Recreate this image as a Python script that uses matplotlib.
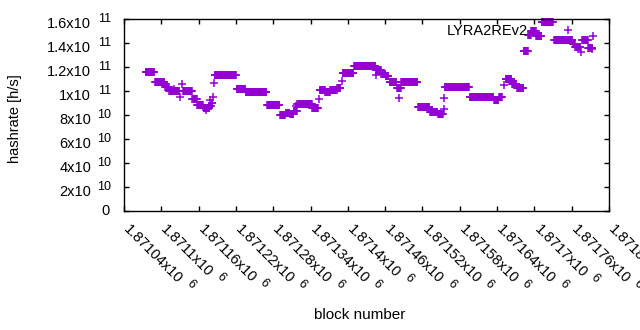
import numpy as np
import matplotlib
matplotlib.use("Agg")
import matplotlib.pyplot as plt
from matplotlib.font_manager import FontProperties

plt.rcParams['font.family'] = ['Liberation Sans', 'DejaVu Sans']

BASE = 1871040
# constant-difficulty runs: start block, end block, hashrate (x1e10 h/s)
seg_start = [35, 50, 66, 73, 81, 95, 110, 118, 128, 138, 141, 146, 181, 196, 230, 251, 260, 267,
             273, 279, 303, 315, 324, 332, 343, 353, 370, 405, 414, 421, 427, 439, 446, 473, 492,
             505, 516, 556, 576, 595, 603, 614, 624, 632, 643, 650, 655, 663, 672, 692, 722, 726,
             737, 747]
seg_end = [49, 65, 72, 79, 89, 109, 117, 127, 137, 140, 142, 180, 195, 229, 250, 259, 266, 272,
           278, 302, 312, 323, 331, 342, 348, 369, 404, 413, 420, 425, 438, 445, 472, 491, 504,
           513, 555, 575, 594, 602, 608, 623, 631, 642, 649, 654, 662, 671, 690, 721, 725, 734,
           746, 753]
seg_value = [11.56, 10.72, 10.31, 10.03, 9.97, 9.97, 9.36, 8.81, 8.61, 8.79, 9.0, 11.31, 10.14,
             9.89, 8.81, 7.97, 8.14, 8.08, 8.33, 8.92, 8.58, 10.06, 9.89, 10.06, 10.25, 11.54,
             12.07, 11.71, 11.42, 11.25, 10.72, 10.25, 10.72, 8.69, 8.28, 8.06, 10.31, 9.53, 9.47,
             9.21, 9.47, 10.97, 10.58, 10.22, 13.33, 14.67, 15.04, 14.58, 15.71, 14.21, 13.92,
             13.69, 14.22, 13.61]
# isolated blocks
single_block = [80, 90, 93, 132, 139, 143, 144, 277, 313, 350, 352, 406, 443, 514, 515, 611,
                735, 752, 755]
single_value = [10.2, 9.53, 10.56, 8.39, 9.25, 9.53, 10.64, 8.75, 9.31, 10.83, 11.53, 11.33,
                9.44, 8.47, 9.39, 10.46, 13.28, 13.47, 14.58]

xtick_values = [1871040 + 60 * k for k in range(14)]
xtick_labels = ['1.87104', '1.8711', '1.87116', '1.87122', '1.87128', '1.87134', '1.8714',
                '1.87146', '1.87152', '1.87158', '1.87164', '1.8717', '1.87176', '1.87182']
ytick_values = [0, 2e10, 4e10, 6e10, 8e10, 1e11, 1.2e11, 1.4e11, 1.6e11]
ytick_labels = ['0', '2x10^10', '4x10^10', '6x10^10', '8x10^10', '1x10^11', '1.2x10^11',
                '1.4x10^11', '1.6x10^11']

blocks = []
rates = []
for s, e, v in zip(seg_start, seg_end, seg_value):
    for b in range(s, e + 1):
        blocks.append(BASE + b)
        rates.append(v * 1e10)
for b, v in zip(single_block, single_value):
    blocks.append(BASE + b)
    rates.append(v * 1e10)

color = '#9400D3'
MFS = 10.5   # mantissa font size
EFS = 9      # exponent font size
fig = plt.figure(figsize=(6.4, 3.3), dpi=100)
ax = fig.add_axes([124 / 640, 1 - 211 / 330, 485 / 640, 192 / 330])
ax.plot(blocks, rates, linestyle='none', marker='+', color=color, markersize=5.8,
        markeredgewidth=1.1, label='LYRA2REv2', clip_on=False)

ax.set_xlim(1871040, 1871820)
ax.set_ylim(0, 1.6e11)
ax.set_yticks(ytick_values)
ax.set_xticks(xtick_values)
ax.tick_params(direction='in', length=3.5, width=1, top=True, right=True,
               labelleft=False, labelbottom=False)
for sp in ax.spines.values():
    sp.set_linewidth(1)

renderer = fig.canvas.get_renderer()
mprop = FontProperties(family='Liberation Sans', size=MFS)

# y tick labels (mantissa + raised exponent)
for v, lbl in zip(ytick_values, ytick_labels):
    if '^' in lbl:
        m, e = lbl.split('^')
        ax.annotate(m, xy=(0, v), xycoords=('axes fraction', 'data'), xytext=(-33, -9.0),
                    textcoords='offset pixels', ha='right', va='baseline', fontsize=MFS,
                    annotation_clip=False)
        ax.annotate(e, xy=(0, v), xycoords=('axes fraction', 'data'), xytext=(-13, -3.0),
                    textcoords='offset pixels', ha='right', va='baseline', fontsize=EFS,
                    annotation_clip=False)
    else:
        ax.annotate(lbl, xy=(0, v), xycoords=('axes fraction', 'data'), xytext=(-14, 0),
                    textcoords='offset pixels', ha='right', va='center', fontsize=MFS,
                    annotation_clip=False)

# x tick labels rotated -45 deg
d = np.array([np.cos(np.pi / 4), -np.sin(np.pi / 4)])   # along baseline (offset px, y up)
u = np.array([np.sin(np.pi / 4), np.cos(np.pi / 4)])    # text "up" direction
start = np.array([-1.0, -19.0])
for v, lbl in zip(xtick_values, xtick_labels):
    m = lbl + 'x10'
    w, h, dsc = renderer.get_text_width_height_descent(m, mprop, ismath=False)
    ax.annotate(m, xy=(v, 0), xycoords=('data', 'axes fraction'), xytext=tuple(start),
                textcoords='offset pixels', ha='left', va='baseline', rotation=-45,
                rotation_mode='anchor', fontsize=MFS, annotation_clip=False)
    ep = start + d * (w + 6) + u * 6.5
    ax.annotate('6', xy=(v, 0), xycoords=('data', 'axes fraction'), xytext=tuple(ep),
                textcoords='offset pixels', ha='left', va='baseline', rotation=-45,
                rotation_mode='anchor', fontsize=EFS, annotation_clip=False)

leg = ax.legend(loc='upper right', bbox_to_anchor=(0.963, 0.975), frameon=False, fontsize=10.5,
                markerfirst=False, handlelength=3.2, handletextpad=1.15, borderpad=0,
                borderaxespad=0, numpoints=1)

fig.text(360 / 640, 1 - 315 / 330, 'block number', ha='center', va='center', fontsize=11)
fig.text(15 / 640, 1 - 119 / 330, 'hashrate [h/s]', ha='center', va='center', rotation=90,
         fontsize=10.5)

fig.savefig('out.png', dpi=100)
